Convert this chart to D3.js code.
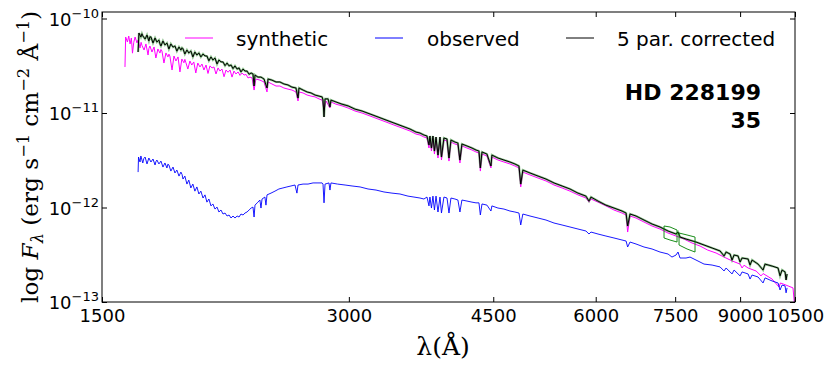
<!DOCTYPE html>
<html><head><meta charset="utf-8">
<script src="https://cdn.jsdelivr.net/npm/d3@7"></script>
<style>
body{margin:0;background:#fff;}
svg{display:block;font-family:"DejaVu Sans",sans-serif;}
</style></head>
<body>
<svg id="chart" width="830" height="368"></svg>
<script>
// Flux values are in units of 1e-13 erg s^-1 cm^-2 Å^-1; wavelengths in Å
const FLUX_UNIT = 1e-13;
const xTicks = [1500, 3000, 4500, 6000, 7500, 9000, 10500];
const yTicks = [1e-13, 1e-12, 1e-11, 1e-10];
const yTickExp = ["-13", "-12", "-11", "-10"];
const seriesNames = ["synthetic", "observed", "5 par. corrected"];
const starName = "HD 228199";
const starIndex = "35";

const synthetic = [
[1600,307],[1603,637],[1611,564],[1617,653],[1623,538],[1629,622],[1634,430],[1640,560],[1646,637],[1655,551],[1660,592],
[1669,488],[1674,560],[1678,520],[1688,464],[1697,538],[1707,411],[1711,480],[1716,512],[1726,442],[1736,500],[1745,382],[1755,476],
[1765,431],[1770,470],[1775,453],[1785,338],[1795,432],[1805,392],[1810,420],[1815,401],[1826,285],[1836,401],[1846,355],[1857,392],
[1867,272],[1877,373],[1888,340],[1893,370],[1898,344],[1909,292],[1920,355],[1930,322],[1941,347],[1952,265],[1963,338],
[1975,307],[1986,330],[1997,285],[2009,322],[2020,262],[2031,315],[2043,300],[2054,307],[2066,259],[2078,300],
[2089,278],[2101,292],[2113,242],[2125,285],[2137,270],[2149,285],[2161,240],[2173,278],[2185,259],[2198,272],
[2210,250],[2223,265],[2235,252],[2248,256],[2260,235],[2273,240],[2286,235],[2299,175],[2311,229],[2337,223],
[2364,213],[2384,167],[2391,213],[2417,203],[2445,193],[2472,193],[2500,184],[2529,179],[2557,175],[2586,167],
[2601,134],[2608,167],[2638,163],[2668,155],[2698,151],[2728,148],[2759,141],[2783,137],[2798,108],[2814,134],
[2845,113],[2853,131],[2893,124],[2943,119],[2993,113],[3052,105],[3113,100],[3184,93],[3256,86.4],[3330,80.3],
[3405,74.6],[3483,69.4],[3562,64.5],[3622,59.9],[3663,58.5],[3704,55.7],[3736,54.4],[3757,42.6],[3767,54.4],[3783,39.6],
[3799,54.4],[3815,36.8],[3832,53.1],[3853,33.4],[3875,53.1],[3891,31.8],[3918,51.8],[3952,50.5],[3974,31.0],[3996,49.3],
[4041,47.0],[4075,45.9],[4098,29.6],[4121,44.8],[4180,42.6],[4239,40.6],[4287,38.7],[4323,37.7],[4340,24.3],[4360,36.8],
[4421,35.1],[4471,26.2],[4483,34.2],[4560,31.8],[4637,30.3],[4716,28.9],[4782,27.5],[4837,26.2],[4861,16.5],[4890,23.7],
[4989,22.1],[5103,20.5],[5218,19.1],[5337,17.3],[5459,16.1],[5582,14.9],[5709,13.6],[5838,12.6],[5888,11.4],[5921,12.3],
[6039,11.4],[6175,10.4],[6316,9.41],[6460,8.74],[6534,8.33],[6563,5.50],[6607,8.13],[6719,7.74],[6871,7.02],[7028,6.37],
[7187,5.92],[7351,5.37],[7518,4.99],[7688,4.64],[7863,4.21],[8043,3.91],[8214,3.55],[8413,3.30],[8604,2.99],[8799,2.72],
[8999,2.52],[9050,2.29],[9100,2.45],[9204,2.29],[9412,2.13],[9545,1.89],[9600,2.00],[9845,1.75],[10040,1.44],[10080,1.59],
[10297,1.48],[10441,1.41],[10500,0.82]
];

const observed = [
[1660,23.7],[1662,34.2],[1669,30.3],[1673,35.1],[1682,29.6],[1687,33.0],[1693,34.2],[1702,28.9],[1711,33.4],[1721,30.3],[1731,32.6],
[1741,28.2],[1745,30.5],[1750,31.8],[1760,28.9],[1770,31.0],[1780,26.8],[1790,29.6],[1800,26.2],[1805,28.8],[1810,28.2],[1820,24.3],[1831,26.8],
[1841,23.2],[1851,24.9],[1862,21.5],[1872,23.7],[1878,22.4],[1883,20.0],[1893,21.5],[1904,17.7],[1914,19.5],[1925,16.1],[1936,17.7],
[1947,14.9],[1958,16.5],[1969,13.9],[1980,14.9],[1992,12.6],[2003,13.6],[2014,11.4],[2025,12.3],[2037,10.4],[2048,10.9],
[2060,9.63],[2072,10.1],[2083,8.96],[2095,9.41],[2107,8.53],[2119,8.74],[2131,8.13],[2143,8.33],[2155,7.74],[2167,8.13],
[2179,7.74],[2192,8.13],[2204,7.93],[2216,8.53],[2229,8.33],[2241,8.74],[2254,8.96],[2267,9.41],[2280,9.87],[2292,10.1],
[2299,7.93],[2305,10.6],[2324,11.4],[2337,12.0],[2344,9.87],[2351,12.3],[2370,12.9],[2377,10.6],[2384,13.6],[2411,14.2],
[2438,14.9],[2465,15.7],[2493,16.1],[2521,16.5],[2550,16.9],[2579,17.3],[2593,14.2],[2601,17.3],[2638,17.7],[2675,17.7],
[2713,18.2],[2751,18.2],[2783,18.2],[2790,17.7],[2798,11.2],[2806,17.7],[2837,18.2],[2845,15.3],[2853,18.2],[2906,17.7],
[2968,17.3],[3027,16.9],[3096,16.5],[3166,15.7],[3238,15.3],[3311,14.6],[3386,14.2],[3463,13.9],[3542,13.2],[3602,12.9],
[3663,12.6],[3704,12.3],[3736,12.9],[3757,10.4],[3767,12.9],[3783,9.87],[3799,13.2],[3815,9.41],[3832,13.2],[3853,8.96],
[3875,12.9],[3891,8.74],[3918,12.9],[3952,12.6],[3974,8.74],[3996,12.6],[4041,12.3],[4075,12.0],[4098,8.96],[4121,12.0],
[4180,11.7],[4239,11.4],[4287,11.2],[4323,11.2],[4340,8.33],[4360,10.9],[4421,10.6],[4471,9.18],[4483,10.4],[4560,9.87],
[4637,9.63],[4716,9.18],[4782,8.96],[4837,8.74],[4861,6.53],[4890,8.53],[4989,8.13],[5103,7.74],[5218,7.37],[5337,6.85],
[5459,6.53],[5582,6.22],[5709,5.92],[5838,5.64],[5888,5.24],[5921,5.50],[6039,5.24],[6175,4.99],[6316,4.76],[6460,4.53],
[6534,4.42],[6563,3.82],[6607,4.31],[6719,4.11],[6871,3.82],[7028,3.64],[7187,3.38],[7351,3.22],[7433,2.99],[7518,3.14],
[7560,3.38],[7603,2.92],[7732,2.92],[7819,2.99],[7952,2.78],[8133,2.52],[8319,2.46],[8507,2.35],[8604,2.13],[8653,2.29],
[8799,1.98],[8849,2.18],[8999,1.89],[9050,2.08],[9204,1.98],[9255,1.75],[9307,1.93],[9465,1.84],[9599,1.59],[9653,1.80],
[9845,1.67],[10012,1.59],[10068,1.34],[10125,1.51],[10211,1.48],[10240,1.25],[10269,1.41]
];

const corrected = [
[1660,442],[1664,702],[1673,637],[1678,690],[1682,655],[1693,607],[1702,669],[1711,578],[1716,640],[1721,637],[1731,551],[1741,622],
[1750,564],[1760,592],[1765,540],[1770,512],[1780,578],[1790,525],[1800,551],[1810,476],[1820,538],[1831,498],[1841,512],
[1851,452],[1862,500],[1872,464],[1878,490],[1883,478],[1893,421],[1904,464],[1914,432],[1925,453],[1936,392],[1947,442],
[1958,411],[1969,432],[1980,392],[1992,421],[2003,402],[2014,401],[2025,357],[2037,392],[2048,364],[2060,382],
[2072,330],[2083,364],[2095,348],[2107,347],[2119,317],[2131,338],[2143,315],[2155,322],[2167,295],[2179,315],
[2192,292],[2204,300],[2216,272],[2229,292],[2241,278],[2254,278],[2267,257],[2280,265],[2292,259],[2299,193],
[2305,252],[2324,240],[2344,240],[2364,229],[2384,184],[2391,229],[2417,223],[2445,213],[2472,213],[2500,203],
[2529,198],[2557,188],[2586,184],[2601,144],[2608,184],[2638,175],[2668,167],[2698,163],[2728,155],[2759,151],
[2783,148],[2790,137],[2798,90.8],[2806,141],[2830,141],[2845,116],[2853,137],[2893,131],[2943,124],[2993,119],
[3052,110],[3113,105],[3184,97.6],[3256,90.8],[3330,84.3],[3405,78.4],[3483,72.8],[3562,67.7],[3622,62.9],[3663,61.4],
[3704,58.5],[3736,57.1],[3757,45.9],[3767,57.1],[3783,42.6],[3799,57.1],[3815,39.6],[3832,55.7],[3853,35.9],[3875,55.7],
[3891,34.2],[3918,54.4],[3952,53.1],[3974,33.4],[3996,51.8],[4041,49.3],[4075,48.1],[4098,31.8],[4121,47.0],[4180,44.8],
[4239,42.6],[4287,40.6],[4323,39.6],[4340,26.2],[4360,38.7],[4421,36.8],[4471,27.5],[4483,35.9],[4560,33.4],[4637,31.8],
[4716,30.3],[4782,28.9],[4837,27.5],[4861,17.7],[4890,24.9],[4989,23.2],[5103,21.5],[5218,20.0],[5337,18.2],[5459,16.9],
[5582,15.7],[5709,14.2],[5838,13.2],[5888,11.7],[5921,12.9],[6039,11.7],[6175,10.6],[6316,9.87],[6460,9.18],[6534,8.74],
[6563,6.37],[6607,8.53],[6719,8.13],[6871,7.37],[7028,6.69],[7187,6.22],[7351,5.64],[7518,5.24],[7560,5.50],[7603,4.87],
[7732,4.64],[7952,4.31],[8133,4.01],[8319,3.73],[8507,3.47],[8604,3.07],[8653,3.38],[8750,3.22],[8799,2.78],[8849,3.14],
[8948,3.07],[8999,2.65],[9050,2.92],[9204,2.85],[9255,2.46],[9307,2.78],[9465,2.52],[9599,2.18],[9653,2.52],[9845,2.40],
[10012,2.29],[10068,1.89],[10125,2.18],[10211,2.08],[10240,1.71],[10269,1.98]
];

// telluric band outlines (green)
const bandA = [[7269,6.37],[7392,6.22],[7539,5.78],[7539,4.31],[7392,4.53],[7269,4.76],[7269,6.37]];
const bandB = [[7582,5.37],[7754,5.12],[7930,4.87],[7930,3.38],[7754,3.64],[7582,4.01],[7582,5.37]];

const svg = d3.select("#chart");
const L = 102, R = 795, T = 12, B = 302;
const x = d3.scaleLog().domain([1500, 10500]).range([L, R]);
const y = d3.scaleLog().domain([1e-13, 1.172e-10]).range([B, T]);

svg.append("defs").append("clipPath").attr("id","clip")
  .append("rect").attr("x",L).attr("y",T).attr("width",R-L).attr("height",B-T);

const line = d3.line().x(d => x(d[0])).y(d => y(d[1]*FLUX_UNIT));
const g = svg.append("g").attr("clip-path","url(#clip)");
g.append("path").attr("d", line(synthetic)).attr("fill","none").attr("stroke","#ff00ff").attr("stroke-width",1);
g.append("path").attr("d", line(observed)).attr("fill","none").attr("stroke","#0000ff").attr("stroke-width",0.9);
g.append("path").attr("d", line(corrected)).attr("fill","none").attr("stroke","#2a8a2a").attr("stroke-width",2.2).attr("stroke-opacity",0.55);
g.append("path").attr("d", line(corrected)).attr("fill","none").attr("stroke","#000").attr("stroke-width",1);
[bandA, bandB].forEach(b => g.append("path").attr("d", line(b)).attr("fill","none").attr("stroke","#008000").attr("stroke-width",0.9));

// axes
const fmt = d => d3.format("d")(d);
const xb = svg.append("g").attr("transform",`translate(0,${B})`)
  .call(d3.axisBottom(x).tickValues(xTicks).tickFormat(fmt).tickSizeInner(-5).tickSizeOuter(0).tickPadding(7));
const xt = svg.append("g").attr("transform",`translate(0,${T})`)
  .call(d3.axisTop(x).tickValues(xTicks).tickFormat("").tickSizeInner(-5).tickSizeOuter(0));
const yl = svg.append("g").attr("transform",`translate(${L},0)`)
  .call(d3.axisLeft(y).tickValues(yTicks).tickFormat("").tickSizeInner(-5).tickSizeOuter(0));
const yr = svg.append("g").attr("transform",`translate(${R},0)`)
  .call(d3.axisRight(y).tickValues(yTicks).tickFormat("").tickSizeInner(-5).tickSizeOuter(0));
[xb,xt,yl,yr].forEach(a => { a.select(".domain").remove(); a.selectAll("line").attr("stroke","#000"); });
xb.selectAll("text").attr("font-size",18).style("font-family","DejaVu Sans").attr("fill","#000");

svg.append("rect").attr("x",L).attr("y",T).attr("width",R-L).attr("height",B-T)
  .attr("fill","none").attr("stroke","#000").attr("stroke-width",1);

// y tick labels with superscripts
yTicks.forEach((v,i) => {
  const t = svg.append("text").attr("x", 99).attr("y", y(v)+7).attr("text-anchor","end").attr("fill","#000");
  t.append("tspan").attr("font-size",18).text("10");
  t.append("tspan").attr("font-size",13).attr("dy",-8).text(yTickExp[i].replace("-","\u2212"));
});

// axis titles
const serif = "'DejaVu Serif', 'Liberation Serif', serif";
svg.append("text").attr("x", 443).attr("y", 355).attr("text-anchor","middle")
  .style("font-family", serif).attr("font-size", 25).text("λ(Å)");

const yt = svg.append("text").attr("transform","translate(38,157) rotate(-90)")
  .attr("text-anchor","middle").style("font-family", serif).attr("font-size",23)
  .attr("textLength",292).attr("lengthAdjust","spacingAndGlyphs");
yt.append("tspan").text("log ");
yt.append("tspan").attr("font-style","italic").text("F");
yt.append("tspan").attr("font-size",16).attr("dy",5).attr("font-style","italic").text("λ");
yt.append("tspan").attr("dy",-5).text("  (erg s");
yt.append("tspan").attr("font-size",16).attr("dy",-9).text("−1");
yt.append("tspan").attr("dy",9).text(" cm");
yt.append("tspan").attr("font-size",16).attr("dy",-9).text("−2");
yt.append("tspan").attr("dy",9).text(" Å");
yt.append("tspan").attr("font-size",16).attr("dy",-9).text("−1");
yt.append("tspan").attr("dy",9).text(")");

// legend
const legColors = ["#ff00ff","#0000ff","#000"];
const legLineX = [185, 375, 566];
const legTextX = [236, 427, 617];
seriesNames.forEach((n,i) => {
  svg.append("line").attr("x1",legLineX[i]).attr("x2",legLineX[i]+28).attr("y1",38).attr("y2",38)
    .attr("stroke",legColors[i]).attr("stroke-width",1);
  svg.append("text").attr("x",legTextX[i]).attr("y",46).attr("font-size",20).attr("fill","#000").text(n);
});

// star annotation
svg.append("text").attr("x",761).attr("y",100).attr("text-anchor","end").attr("font-weight","bold").attr("font-size",22).text(starName);
svg.append("text").attr("x",761).attr("y",128).attr("text-anchor","end").attr("font-weight","bold").attr("font-size",22).text(starIndex);
</script>
</body></html>
